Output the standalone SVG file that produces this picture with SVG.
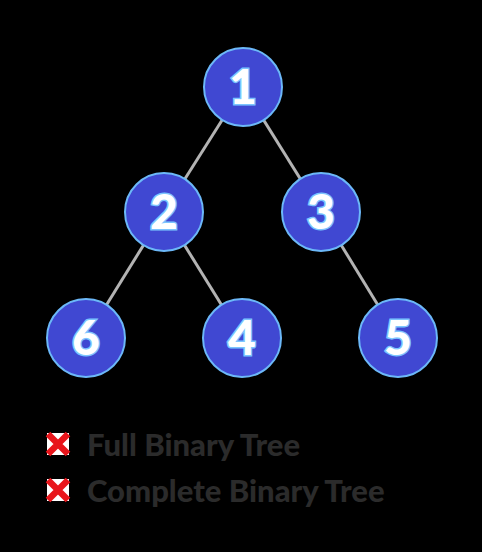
<svg xmlns="http://www.w3.org/2000/svg" width="482" height="552" viewBox="0 0 482 552">
<style>
.edge{stroke:#b3b3b3;stroke-width:3;fill:none}
.node circle{fill:#4048d2;stroke:#6cb8f8;stroke-width:2}
.node text{font-family:Lato,"Liberation Sans",sans-serif;font-weight:900;font-size:48px;fill:#ffffff;stroke:#7cc4ff;stroke-width:3;paint-order:stroke;text-anchor:middle}
.lbl{font-family:Lato,"Liberation Sans",sans-serif;font-weight:900;font-size:31px;fill:#2b2b2b}
.xbg{fill:#ffffff}
.xm{stroke:#e8151b;stroke-width:6.5;stroke-linecap:butt}
</style>
<rect width="482" height="552" fill="#000000"/>
<g id="connectors">
<line class="edge" x1="243" y1="87" x2="164" y2="212"/>
<line class="edge" x1="243" y1="87" x2="321" y2="212"/>
<line class="edge" x1="164" y1="212" x2="86" y2="338"/>
<line class="edge" x1="164" y1="212" x2="242" y2="338"/>
<line class="edge" x1="321" y1="212" x2="398" y2="338"/>
</g>
<g id="node1" class="node"><circle cx="243" cy="87" r="39"/><text x="243" y="104">1</text></g>
<g id="node2" class="node"><circle cx="164" cy="212" r="39"/><text x="164" y="229">2</text></g>
<g id="node3" class="node"><circle cx="321" cy="212" r="39"/><text x="321" y="229">3</text></g>
<g id="node6" class="node"><circle cx="86" cy="338" r="39"/><text x="86" y="355">6</text></g>
<g id="node4" class="node"><circle cx="242" cy="338" r="39"/><text x="242" y="355">4</text></g>
<g id="node5" class="node"><circle cx="398" cy="338" r="39"/><text x="398" y="355">5</text></g>
<g id="legend1">
<rect class="xbg" x="47" y="433" width="22" height="22"/>
<path class="xm" d="M48,434 L68,454 M68,434 L48,454"/>
<text class="lbl" x="87" y="456">Full Binary Tree</text>
</g>
<g id="legend2">
<rect class="xbg" x="47" y="479" width="22" height="22"/>
<path class="xm" d="M48,480 L68,500 M68,480 L48,500"/>
<text class="lbl" x="87" y="502">Complete Binary Tree</text>
</g>
</svg>
